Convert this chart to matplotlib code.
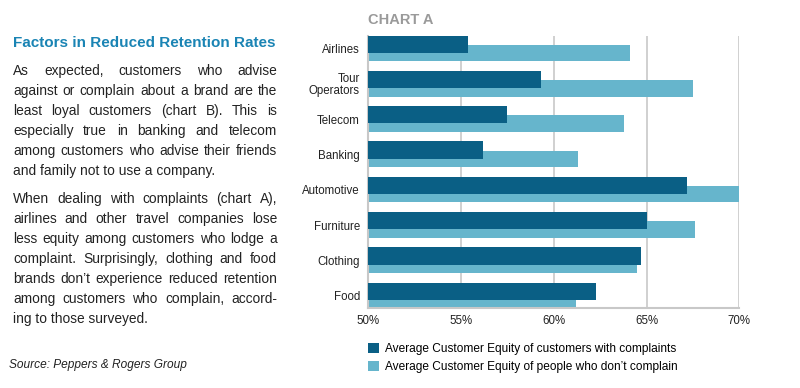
import matplotlib
matplotlib.use("Agg")
import matplotlib.pyplot as plt
import numpy as np

plt.rcParams['font.family'] = ['Liberation Sans', 'DejaVu Sans']

categories = ["Airlines", "Tour\nOperators", "Telecom", "Banking",
              "Automotive", "Furniture", "Clothing", "Food"]
with_complaints = [55.4, 59.3, 57.5, 56.2, 67.2, 65.0, 64.7, 62.3]
no_complaints = [64.1, 67.5, 63.8, 61.3, 70.0, 67.6, 64.5, 61.2]
xticks = [50, 55, 60, 65, 70]
xtick_labels = ["50%", "55%", "60%", "65%", "70%"]
legend_labels = ["Average Customer Equity of customers with complaints",
                 "Average Customer Equity of people who don\u2019t complain"]

title = "Factors in Reduced Retention Rates"
para1 = ["As expected, customers who advise",
         "against or complain about a brand are the",
         "least loyal customers (chart B). This is",
         "especially true in banking and telecom",
         "among customers who advise their friends",
         "and family not to use a company."]
para2 = ["When dealing with complaints (chart A),",
         "airlines and other travel companies lose",
         "less equity among customers who lodge a",
         "complaint. Surprisingly, clothing and food",
         "brands don\u2019t experience reduced retention",
         "among customers who complain, accord-",
         "ing to those surveyed."]
source = "Source: Peppers & Rogers Group"

DARK = "#0a5f85"
LIGHT = "#66b5cc"
W, H = 800, 388

fig = plt.figure(figsize=(8, 3.88), dpi=100)
ax = fig.add_axes([368.3 / W, 1 - 308.3 / H, 371 / W, 272.3 / H])

y = np.arange(len(categories))
ax.barh(y + 0.125, no_complaints, height=0.47, left=0, color=LIGHT, zorder=2,
        label=legend_labels[1])
ax.barh(y - 0.125, with_complaints, height=0.49, color=DARK, zorder=3,
        label=legend_labels[0])
ax.set_xlim(50, 70)
ax.set_ylim(len(categories) - 0.64, -0.36)
ax.set_yticks(y)
ax.set_yticklabels(categories, fontsize=8.3, color="#222222", linespacing=0.95)
ax.set_xticks(xticks)
ax.set_xticklabels(xtick_labels, fontsize=8.3, color="#222222")
ax.tick_params(axis='both', length=0)
ax.tick_params(axis='y', pad=6)
ax.tick_params(axis='x', pad=5)
for s in ["top", "right"]:
    ax.spines[s].set_visible(False)
for s in ["left", "bottom"]:
    ax.spines[s].set_color("#c8c8c8")
    ax.spines[s].set_linewidth(1.5)
ax.grid(axis='x', color="#c8c8c8", linewidth=1.2, zorder=0)
ax.set_axisbelow(True)

handles, labels = ax.get_legend_handles_labels()
order = [1, 0]
ax.legend([handles[i] for i in order], [labels[i] for i in order],
          loc='upper left', bbox_to_anchor=(368 / W, 1 - 343 / H),
          bbox_transform=fig.transFigure, frameon=False, fontsize=8.6,
          handlelength=0.95, handleheight=0.95, handletextpad=0.45,
          labelspacing=0.45, borderpad=0, borderaxespad=0)

fig.text(368 / W, 1 - 24 / H, "CHART A", fontsize=10.5, fontweight='bold',
         color="#9a9a9a", ha='left', va='baseline')

fig.text(13 / W, 1 - 47 / H, title, fontsize=11, fontweight='bold',
         color="#1a84b4", ha='left', va='baseline')

renderer = fig.canvas.get_renderer()
BODY_FS = 9.9
LEFT, RIGHT = 13, 277


def draw_line(text, ybase, justify):
    words = text.split(" ")
    if not justify or len(words) == 1:
        fig.text(LEFT / W, 1 - ybase / H, text, fontsize=BODY_FS,
                 color="#222222", ha='left', va='baseline')
        return
    tobjs = [fig.text(0, 1 - ybase / H, w_, fontsize=BODY_FS, color="#222222",
                      ha='left', va='baseline') for w_ in words]
    widths = [t.get_window_extent(renderer=renderer).width for t in tobjs]
    gap = (RIGHT - LEFT - sum(widths)) / (len(words) - 1)
    x = LEFT
    for t, wd in zip(tobjs, widths):
        t.set_x(x / W)
        x += wd + gap


for i, line in enumerate(para1):
    draw_line(line, 75 + i * 20, i < len(para1) - 1)
for i, line in enumerate(para2):
    draw_line(line, 203.3 + i * 20, i < len(para2) - 1)

fig.text(9 / W, 1 - 368 / H, source, fontsize=8.6, style='italic',
         color="#222222", ha='left', va='baseline')

fig.savefig("out.png", dpi=100)
